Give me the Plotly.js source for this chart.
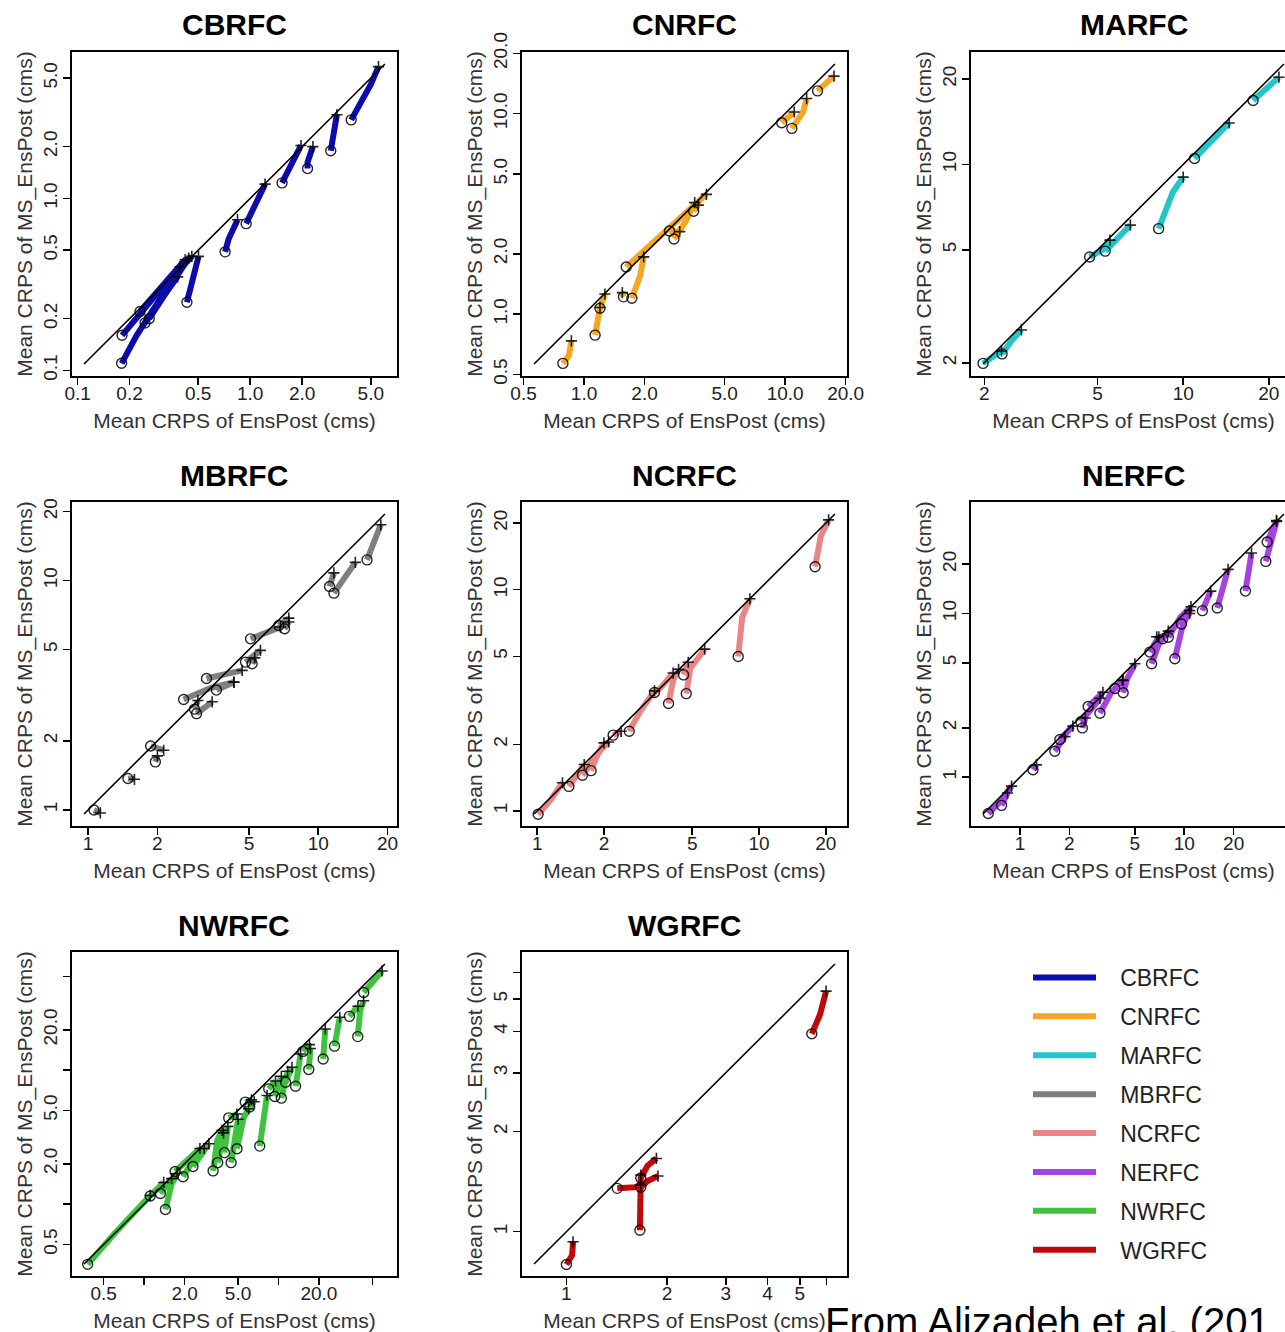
<!DOCTYPE html>
<html><head><meta charset="utf-8">
<script src="https://cdn.plot.ly/plotly-3.0.1.min.js"></script>
<style>html,body{margin:0;padding:0;overflow:hidden;background:#fff}#chart{width:1340px;height:1332px}</style>
</head><body><div id="chart"></div>
<script>
// ---------------- DATA ----------------
const regions = ['CBRFC','CNRFC','MARFC','MBRFC','NCRFC','NERFC','NWRFC','WGRFC'];
const regionColors = ['#0c0cae','#f5a623','#22c6c8','#7f7f7f','#ea8585','#a443e0','#3fc23f','#c00a0a'];

// extent of the 1:1 line (data limits) per panel
const CBRFC_lim = [0.109, 6.04];
const CNRFC_lim = [0.564, 17.7];
const MARFC_lim = [1.98, 22.6];
const MBRFC_lim = [0.96, 19.5];
const NCRFC_lim = [0.968, 22.0];
const NERFC_lim = [0.596, 40.5];
const NWRFC_lim = [0.357, 62];
const WGRFC_lim = [0.80, 6.37];

// tick values / labels
const CBRFC_tv = [0.1,0.2,0.5,1,2,5];      const CBRFC_tt = ['0.1','0.2','0.5','1.0','2.0','5.0'];
const CNRFC_tv = [0.5,1,2,5,10,20];        const CNRFC_tt = ['0.5','1.0','2.0','5.0','10.0','20.0'];
const MARFC_tv = [2,5,10,20];              const MARFC_tt = ['2','5','10','20'];
const MBRFC_tv = [1,2,5,10,20];            const MBRFC_tt = ['1','2','5','10','20'];
const NCRFC_tv = [1,2,5,10,20];            const NCRFC_tt = ['1','2','5','10','20'];
const NERFC_tv = [1,2,5,10,20];            const NERFC_tt = ['1','2','5','10','20'];
const NWRFC_tv = [0.5,1,2,5,10,20,50];     const NWRFC_tt = ['0.5','','2.0','5.0','','20.0',''];
const WGRFC_tv = [1,2,3,4,5,6];            const WGRFC_tt = ['1','2','3','4','5',''];

// trajectories: each is a list of [EnsPost CRPS, MS_EnsPost CRPS]; first point = circle, last point = plus
const CBRFC_seg = [
  [[0.181,0.160],[0.28,0.27],[0.459,0.46]],
  [[0.18,0.11],[0.22,0.16],[0.27,0.22],[0.38,0.35]],
  [[0.246,0.189],[0.30,0.26],[0.393,0.40]],
  [[0.23,0.22],[0.42,0.44]],
  [[0.26,0.20],[0.35,0.31],[0.44,0.45]],
  [[0.43,0.249],[0.502,0.46]],
  [[0.716,0.489],[0.75,0.58],[0.845,0.752]],
  [[0.948,0.713],[1.22,1.21]],
  [[1.53,1.23],[1.97,2.03]],
  [[2.15,1.49],[2.15,1.62],[2.31,2.0]],
  [[2.93,1.89],[3.18,3.06]],
  [[3.85,2.86],[5.0,4.6],[5.54,5.83]]
];
const CNRFC_seg = [
  [[0.785,0.568],[0.84,0.62],[0.865,0.736]],
  [[1.135,0.786],[1.17,0.95],[1.20,1.08]],
  [[1.20,1.07],[1.27,1.26]],
  [[1.57,1.22],[1.55,1.28]],
  [[1.73,1.20],[1.90,1.55],[1.98,1.93]],
  [[1.62,1.72],[2.5,2.55],[4.06,3.96]],
  [[2.66,2.60],[2.99,2.58]],
  [[2.80,2.37],[3.2,2.9],[3.55,3.6]],
  [[3.51,3.26],[3.70,3.50]],
  [[9.62,9.02],[11.1,10.2]],
  [[10.8,8.45],[12.3,10.2],[12.8,11.9]],
  [[14.5,13.0],[17.5,15.4]]
];
const MARFC_seg = [
  [[1.98,1.99],[2.3,2.2]],
  [[2.31,2.15],[2.5,2.4],[2.7,2.61]],
  [[4.69,4.72],[5.2,5.0],[5.53,5.41]],
  [[5.32,4.95],[6.52,6.11]],
  [[8.2,5.94],[9.2,8.0],[10.0,9.02]],
  [[10.96,10.5],[12.5,12.0],[14.5,14.0]],
  [[17.6,16.8],[21.7,20.3]]
];
const MBRFC_seg = [
  [[1.06,1.0],[1.13,0.97]],
  [[1.49,1.37],[1.59,1.36]],
  [[1.87,1.9],[2.13,1.82]],
  [[1.96,1.62],[2.0,1.72]],
  [[2.6,3.03],[3.4,3.4],[4.3,3.61]],
  [[3.27,3.74],[4.16,3.95],[4.67,4.06]],
  [[2.96,2.63],[3.46,2.96]],
  [[2.9,2.75],[3.0,3.0]],
  [[3.61,3.33],[4.3,3.6]],
  [[4.83,4.41],[5.61,4.96]],
  [[5.16,4.34],[5.3,4.6]],
  [[5.08,5.57],[6.86,6.27]],
  [[6.74,6.37],[7.45,6.86]],
  [[7.14,6.16],[7.45,6.6]],
  [[11.2,9.42],[11.7,10.8]],
  [[11.7,8.81],[14.5,12.0]],
  [[16.3,12.3],[18.7,17.5]]
];
const NCRFC_seg = [
  [[1.01,0.966],[1.15,1.12],[1.30,1.34]],
  [[1.39,1.29],[1.63,1.62]],
  [[1.75,1.52],[1.85,1.75],[2.0,2.03]],
  [[1.6,1.45],[1.9,1.85],[2.1,2.05]],
  [[2.2,2.2],[2.39,2.29]],
  [[2.6,2.29],[2.9,2.8],[3.38,3.49]],
  [[3.38,3.43],[3.6,3.6],[4.1,4.2]],
  [[3.91,3.06],[4.1,3.9],[4.34,4.37]],
  [[4.57,4.12],[4.8,4.7]],
  [[4.7,3.39],[4.9,4.4],[5.69,5.39]],
  [[8.06,4.99],[8.4,7.5],[9.1,9.1]],
  [[17.9,12.7],[19.0,17.5],[20.6,20.7]]
];
const NERFC_seg = [
  [[0.641,0.60],[0.75,0.7],[0.889,0.882]],
  [[0.773,0.673],[0.84,0.8]],
  [[1.2,1.11],[1.26,1.19]],
  [[1.63,1.44],[1.88,1.77]],
  [[1.75,1.7],[2.1,2.05]],
  [[2.35,2.18],[2.7,2.6],[3.07,3.03]],
  [[2.4,2.0],[2.5,2.3]],
  [[2.6,2.7],[3.2,3.3]],
  [[3.07,2.46],[3.6,3.3],[4.25,3.91]],
  [[3.79,3.48],[4.2,3.9]],
  [[4.25,3.28],[4.5,4.0],[5.01,4.93]],
  [[6.33,4.93],[7.0,6.5],[8.0,7.8]],
  [[6.18,5.81],[7.0,7.2]],
  [[7.4,7.0],[6.8,7.2]],
  [[8.77,5.29],[9.8,8.5],[10.8,10.4]],
  [[9.63,8.62],[10.8,10.0]],
  [[8.0,7.16],[9.5,9.5],[11.0,11.0]],
  [[12.9,10.4],[14.5,13.7]],
  [[15.9,10.8],[17.5,16.0],[18.5,18.6]],
  [[23.6,13.7],[25.7,23.4]],
  [[31.4,20.8],[36.5,36.5]],
  [[32.0,27.3],[36.5,37]]
];
const NWRFC_seg = [
  [[0.38,0.355],[0.6,0.6],[1.11,1.16]],
  [[1.11,1.15],[1.4,1.45]],
  [[1.32,1.2],[1.6,1.55]],
  [[1.44,0.91],[1.6,1.4],[1.76,1.69]],
  [[1.7,1.75],[2.6,2.6]],
  [[1.95,1.6],[2.3,2.1],[2.8,2.6]],
  [[2.31,1.91],[3.03,2.82]],
  [[3.26,1.77],[3.5,3.0],[3.8,3.55]],
  [[3.53,2.04],[3.9,3.4]],
  [[3.96,2.42],[4.2,3.8]],
  [[4.44,2.04],[4.8,3.5],[5.0,4.3]],
  [[4.26,4.4],[4.9,4.7]],
  [[4.91,2.59],[5.5,4.4],[6.0,5.14]],
  [[5.66,5.77],[6.3,6.0]],
  [[6.1,5.3],[6.6,5.8]],
  [[7.25,2.71],[8.0,6.0],[8.22,6.47]],
  [[8.46,7.25],[9.5,8.3]],
  [[9.38,6.36],[10.5,9.0]],
  [[10.5,6.18],[11.7,9.8]],
  [[11.3,8.13],[12.6,10.5]],
  [[13.4,7.59],[14.6,13.2]],
  [[15.2,13.8],[17.0,15.5]],
  [[16.8,10.1],[17.3,14.5]],
  [[21.5,12.1],[22.3,20.3]],
  [[26.1,15.1],[28.6,24.8]],
  [[33.7,25.2],[39,30]],
  [[38.9,17.8],[40.5,28],[43,33]],
  [[43.1,38],[59,55]]
];
const WGRFC_seg = [
  [[1.0,0.797],[1.04,0.85],[1.047,0.933]],
  [[1.42,1.35],[1.6,1.36],[1.67,1.38]],
  [[1.66,1.01],[1.66,1.25],[1.67,1.48]],
  [[1.67,1.36],[1.75,1.42],[1.88,1.47]],
  [[1.67,1.45],[1.75,1.58],[1.86,1.66]],
  [[5.43,3.93],[5.75,4.5],[5.99,5.28]]
];

const segs = [CBRFC_seg,CNRFC_seg,MARFC_seg,MBRFC_seg,NCRFC_seg,NERFC_seg,NWRFC_seg,WGRFC_seg];
const lims = [CBRFC_lim,CNRFC_lim,MARFC_lim,MBRFC_lim,NCRFC_lim,NERFC_lim,NWRFC_lim,WGRFC_lim];
const tvs = [CBRFC_tv,CNRFC_tv,MARFC_tv,MBRFC_tv,NCRFC_tv,NERFC_tv,NWRFC_tv,WGRFC_tv];
const tts = [CBRFC_tt,CNRFC_tt,MARFC_tt,MBRFC_tt,NCRFC_tt,NERFC_tt,NWRFC_tt,WGRFC_tt];

// ---------------- LAYOUT ----------------
const W = 1340, H = 1332;
const colLeft = [72, 522, 971], rowTop = [52, 502, 952], PW = 325, PH = 324;
const FONT = 'Liberation Sans, Arial, Helvetica, sans-serif';
const GAP = '\u00a0\u00a0\u00a0';

const traces = [];
const layout = {
  width: W, height: H, margin: {l:0, r:0, t:0, b:0},
  paper_bgcolor: '#fff', plot_bgcolor: '#fff',
  font: {family: FONT, color: '#222'},
  showlegend: true,
  legend: {x: 1028/W, y: 1 - 956/H, xanchor: 'left', yanchor: 'top',
           font: {family: FONT, size: 23, color: '#222'}, itemwidth: 63,
           tracegroupgap: 6, bgcolor: 'rgba(0,0,0,0)', borderwidth: 0},
  annotations: [], hovermode: false
};

regions.forEach((name, i) => {
  const r = Math.floor(i/3), c = i % 3;
  const xs = i === 0 ? '' : String(i+1);
  const xa = 'x' + xs, ya = 'y' + xs;
  const lim = lims[i];
  const lo = Math.log10(lim[0]), hi = Math.log10(lim[1]);
  const pad = 0.04 * (hi - lo);
  const rng = [lo - pad, hi + pad];

  const lx = [], ly = [], cx = [], cy = [], px = [], py = [];
  segs[i].forEach(s => {
    s.forEach(p => { lx.push(p[0]); ly.push(p[1]); });
    lx.push(null); ly.push(null);
    cx.push(s[0][0]); cy.push(s[0][1]);
    px.push(s[s.length-1][0]); py.push(s[s.length-1][1]);
  });

  traces.push({type:'scatter', mode:'lines', x: lx, y: ly, xaxis: xa, yaxis: ya,
    name: GAP + name, legendgroup: name, showlegend: true, connectgaps: false,
    line: {color: regionColors[i], width: 6}});
  traces.push({type:'scatter', mode:'lines', x: lim, y: lim, xaxis: xa, yaxis: ya,
    showlegend: false, line: {color: '#000', width: 1.6}});
  traces.push({type:'scatter', mode:'markers', x: cx, y: cy, xaxis: xa, yaxis: ya,
    showlegend: false, marker: {symbol: 'circle-open', size: 10, color: 'rgba(0,0,0,0.85)', line: {width: 1.4}}});
  traces.push({type:'scatter', mode:'markers', x: px, y: py, xaxis: xa, yaxis: ya,
    showlegend: false, marker: {symbol: 'cross-thin-open', size: 8, color: 'rgba(0,0,0,0.85)', line: {width: 1.6}}});

  const x0 = colLeft[c], y0 = rowTop[r];
  const common = {type: 'log', range: rng, tickvals: tvs[i], ticktext: tts[i],
    ticks: 'outside', ticklen: 7, tickwidth: 1.5, tickcolor: '#000',
    showline: true, linewidth: 2, linecolor: '#000', mirror: true,
    showgrid: false, zeroline: false, fixedrange: true,
    tickfont: {family: FONT, size: 19, color: '#222'}};
  layout['xaxis' + xs] = Object.assign({}, common, {
    domain: [x0 / W, (x0 + PW) / W], anchor: ya, ticklabelstandoff: -8,
    title: {text: 'Mean CRPS of EnsPost (cms)', font: {family: FONT, size: 21, color: '#333'}, standoff: 11}});
  layout['yaxis' + xs] = Object.assign({}, common, {
    domain: [1 - (y0 + PH) / H, 1 - y0 / H], anchor: xa, tickangle: -90, ticklabelstandoff: -2,
    title: {text: 'Mean CRPS of MS_EnsPost (cms)', font: {family: FONT, size: 21, color: '#333'}, standoff: 2}});

  layout.annotations.push({xref: 'paper', yref: 'paper', x: (x0 + PW/2) / W, y: 1 - (y0 - 27) / H,
    xanchor: 'center', yanchor: 'middle', showarrow: false, text: '<b>' + name + '</b>',
    font: {family: FONT, size: 30, color: '#000'}});
});

layout.annotations.push({xref: 'paper', yref: 'paper', x: 824 / W, y: 1 - 1299 / H,
  xanchor: 'left', yanchor: 'top', showarrow: false, text: 'From Alizadeh et al. (201',
  font: {family: FONT, size: 40, color: '#000'}, borderpad: 0});

Plotly.newPlot('chart', traces, layout, {staticPlot: true, displayModeBar: false});
</script></body></html>
